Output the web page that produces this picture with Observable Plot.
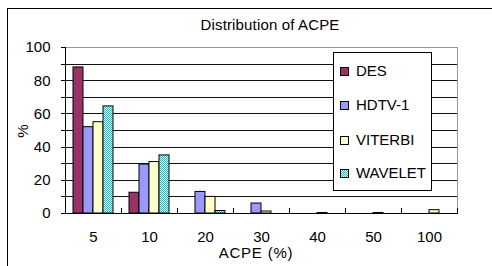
<!DOCTYPE html>
<html><head><meta charset="utf-8">
<script src="https://cdn.jsdelivr.net/npm/d3@7"></script>
<script src="https://cdn.jsdelivr.net/npm/@observablehq/plot@0.6"></script>
<style>
body{margin:0;background:#fff;font-family:"Liberation Sans",Arial,sans-serif;color:#000;}
#wrap{position:relative;width:492px;height:266px;overflow:hidden;background:#fff;}
#border{position:absolute;left:7px;top:8px;width:700px;height:500px;border:1px solid #000;box-sizing:border-box;}
#chart{position:absolute;left:0;top:0;}
.txt{position:absolute;font-size:15px;line-height:15px;white-space:nowrap;}
#title{left:120px;width:300px;top:17px;text-align:center;letter-spacing:0.15px;}
#xlab{left:156px;width:200px;top:245px;text-align:center;letter-spacing:0.8px;}
#ylab{left:21.5px;top:131px;transform:translate(-50%,-50%) rotate(-90deg);}
#legend{position:absolute;left:333px;top:52px;width:99px;height:139px;border:1px solid #000;background:#fff;box-sizing:border-box;}
.item{position:absolute;left:6px;height:15px;font-size:15px;line-height:15px;}
.sw{position:absolute;left:0;top:4px;width:7px;height:7px;border:1px solid #000;box-sizing:content-box;}
.lt{position:absolute;left:16px;top:0;white-space:nowrap;}
#chart svg line, #chart svg path{shape-rendering:crispEdges;}
</style></head><body>
<div id="wrap">
  <div id="border"></div>
  <div id="chart"></div>
  <div id="title" class="txt">Distribution of ACPE</div>
  <div id="xlab" class="txt">ACPE (%)</div>
  <div id="ylab" class="txt">%</div>
  <div id="legend"></div>
</div>
<script>
const categories = ["5", "10", "20", "30", "40", "50", "100"];
const series = ["DES", "HDTV-1", "VITERBI", "WAVELET"];
const des     = [88, 12.5, 0, 0, 0, 0, 0];
const hdtv    = [52, 29.5, 13, 6, 0, 0, 0];
const viterbi = [55, 31, 10, 1.2, 0.3, 0.3, 2];
const wavelet = [64.5, 35, 1.5, 0, 0, 0, 0];
const yTicks = [0, 20, 40, 60, 80, 100];
const yMinorTicks = [0, 10, 20, 30, 40, 50, 60, 70, 80, 90, 100];
const gridTicks = [10, 20, 30, 40, 50, 60, 70, 80, 90];
const colors = ["#993366", "#9999FF", "#FFFFCC", "url(#wave)"];

const values = [des, hdtv, viterbi, wavelet];
const table = categories.flatMap((c, i) =>
  series.map((s, j) => ({cat: c, series: s, value: values[j][i]}))
).filter(d => d.value > 0);

const svg = Plot.plot({
  width: 492, height: 266,
  marginLeft: 65, marginRight: 35, marginTop: 47, marginBottom: 53,
  style: {fontFamily: '"Liberation Sans", Arial, sans-serif', fontSize: "15px", color: "black", background: "transparent", overflow: "visible"},
  fx: {domain: categories, padding: 0, label: null, axis: null},
  x: {domain: series, paddingInner: 0, paddingOuter: 0.8, axis: null},
  y: {domain: [0, 100], label: null, axis: null},
  color: {domain: series, range: colors},
  marks: [
    Plot.frame({facet: "super", stroke: "#999"}),
    Plot.gridY(gridTicks, {stroke: "#111", strokeOpacity: 1}),
    Plot.barY(table, {fx: "cat", x: "series", y: "value", fill: "series", stroke: "black", strokeWidth: 1}),
    Plot.ruleY([0], {stroke: "black"}),
    Plot.frame({facet: "super", anchor: "left", stroke: "black"}),
    Plot.frame({anchor: "left", stroke: "black", insetTop: 161}),
    Plot.frame({anchor: "right", stroke: "black", insetTop: 161}),
    Plot.axisY(yMinorTicks, {tickSize: 4, tickFormat: () => "", label: null}),
    Plot.axisY(yTicks, {tickSize: 0, tickPadding: 15, label: null}),
    Plot.axisFx({tickSize: 0, tickPadding: 18, label: null, anchor: "bottom"})
  ]
});

const defs = d3.select(svg).insert("defs", ":first-child");
const pat = defs.append("pattern").attr("id", "wave").attr("patternUnits", "userSpaceOnUse").attr("width", 2).attr("height", 2);
pat.append("rect").attr("width", 2).attr("height", 2).attr("fill", "#CCFFFF");
pat.append("rect").attr("width", 1).attr("height", 1).attr("fill", "#33BBBB");
pat.append("rect").attr("x", 1).attr("y", 1).attr("width", 1).attr("height", 1).attr("fill", "#33BBBB");

document.getElementById("chart").appendChild(svg);

const legend = d3.select("#legend");
const itemTops = [9.5, 44, 78.5, 112];
series.forEach((s, i) => {
  const it = legend.append("div").attr("class", "item").style("top", itemTops[i] + "px");
  const sw = it.append("div").attr("class", "sw");
  if (colors[i].startsWith("url")) {
    sw.style("background-image", "conic-gradient(#33BBBB 25%, #CCFFFF 0 50%, #33BBBB 0 75%, #CCFFFF 0)").style("background-size", "2px 2px");
  } else {
    sw.style("background", colors[i]);
  }
  it.append("div").attr("class", "lt").text(s);
});
</script>
</body></html>
